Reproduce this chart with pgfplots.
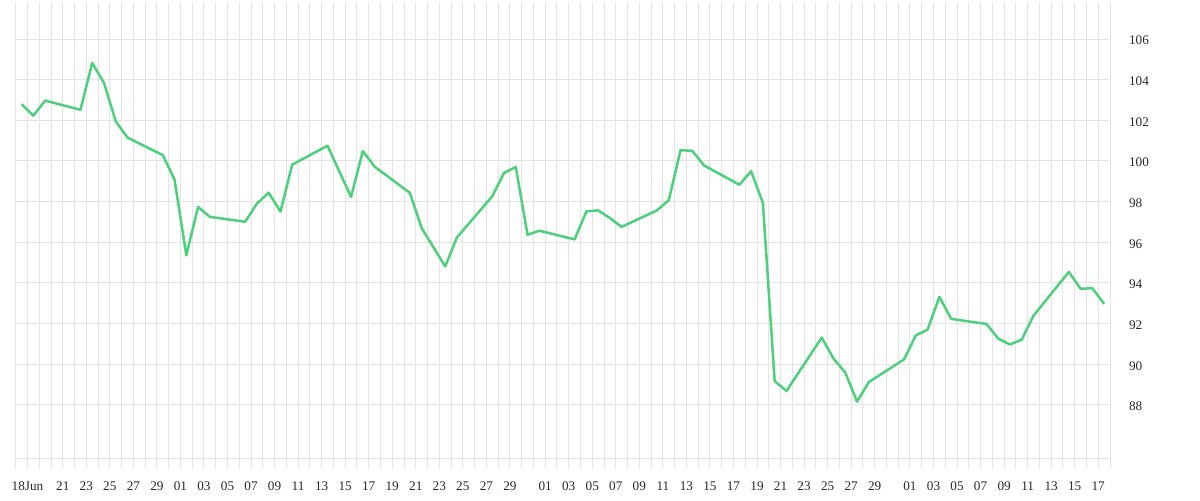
\documentclass[border=0pt]{standalone}
\usepackage{fontspec}
\setmainfont{Liberation Serif}
\usepackage{pgfplots}
\pgfplotsset{compat=1.18}
\definecolor{linegreen}{RGB}{76,208,124}
\definecolor{gridgray}{RGB}{228,228,228}
\definecolor{labelgray}{RGB}{40,40,40}
\begin{document}
\begin{tikzpicture}
\useasboundingbox (-7.85pt,-20.75pt) rectangle (592.15pt,229.25pt);
\begin{axis}[
  at={(0pt,0pt)}, anchor=south west,
  scale only axis,
  width=547.15pt, height=223.25pt,
  xmin=0, xmax=93,
  ymin=85.36, ymax=107.33,
  axis line style={draw=none},
  xtick={1,4,6,...,12,14,16,...,42,45,47,...,73,76,78,...,92},
  xticklabels={18Jun,21,23,25,27,29,01,03,05,07,09,11,13,15,17,19,21,23,25,27,29,01,03,05,07,09,11,13,15,17,19,21,23,25,27,29,01,03,05,07,09,11,13,15,17},
  minor xtick={0,...,93},
  ytick={88,90,...,106},
  extra y ticks={85.36},
  extra y tick labels={},
  extra y tick style={grid=major, ytick style={draw=none}},
  yticklabel pos=right,
  grid=both,
  major grid style={draw=gridgray, line width=0.5pt},
  minor grid style={draw=gridgray, line width=0.5pt},
  tick align=outside,
  major tick length=5pt,
  minor tick length=5pt,
  xtick style={draw=gridgray, line width=0.5pt},
  minor x tick style={draw=gridgray, line width=0.5pt},
  ytick style={draw=none},
  /pgf/number format/assume math mode=true,
  tick label style={font=\fontsize{6.6}{7.5}\selectfont, text=labelgray},
  xticklabel style={anchor=north, yshift=-3pt},
  yticklabel style={anchor=west, xshift=1pt, yshift=-0.8pt},
  clip=false,
]
\addplot[linegreen, line width=1.25pt, line join=round, mark=none] coordinates {
(0.5,102.79) (1.5,102.23) (2.5,102.97) (5.5,102.52) (6.5,104.82) (7.5,103.85)
(8.5,101.95) (9.5,101.15) (12.5,100.29) (13.5,99.08) (14.5,95.36) (15.5,97.74)
(16.5,97.25) (19.5,97.01) (20.5,97.90) (21.5,98.44) (22.5,97.51) (23.5,99.82)
(26.5,100.75) (28.5,98.23) (29.5,100.49) (30.5,99.72) (33.5,98.43) (34.5,96.70)
(36.5,94.81) (37.5,96.24) (40.5,98.26) (41.5,99.41) (42.5,99.70) (43.5,96.37)
(44.5,96.57) (47.5,96.14) (48.5,97.52) (49.5,97.57) (50.5,97.19) (51.5,96.76)
(54.5,97.57) (55.5,98.07) (56.5,100.53) (57.5,100.50) (58.5,99.78) (61.5,98.83)
(62.5,99.50) (63.5,97.94) (64.5,89.17) (65.5,88.68) (68.5,91.31) (69.5,90.28)
(70.5,89.59) (71.5,88.16) (72.5,89.12) (75.5,90.24) (76.5,91.42) (77.5,91.70)
(78.5,93.31) (79.5,92.23) (82.5,91.98) (83.5,91.26) (84.5,90.97) (85.5,91.21)
(86.5,92.39) (89.5,94.54) (90.5,93.71) (91.5,93.74) (92.5,92.97)
};
\end{axis}
\end{tikzpicture}
\end{document}
